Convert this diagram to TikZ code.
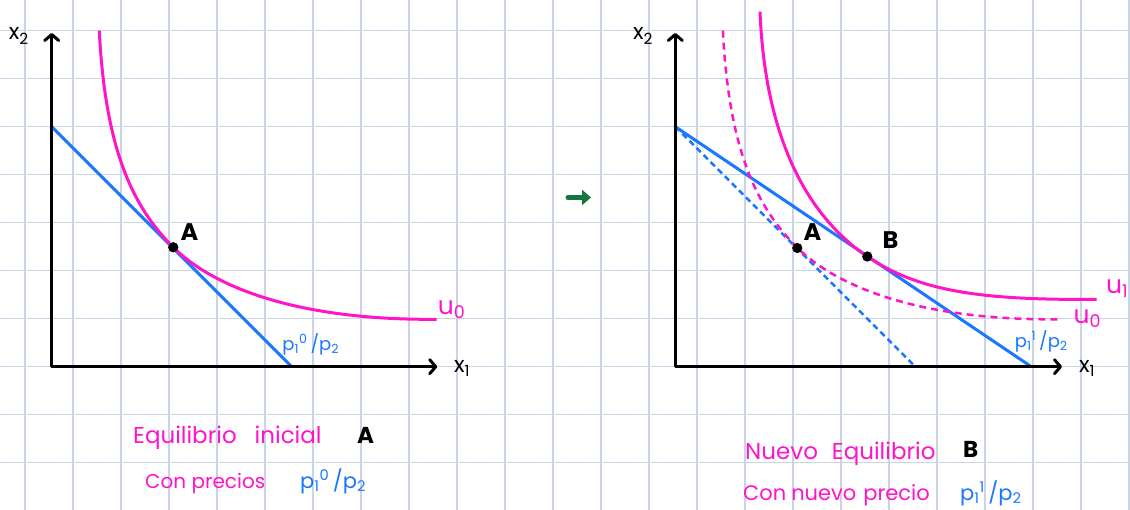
\documentclass[tikz,border=0pt]{standalone}
\usepackage{fontspec}
\setmainfont{Poppins}
\usetikzlibrary{arrows.meta}
\definecolor{gridc}{RGB}{202,212,230}
\definecolor{mag}{RGB}{255,20,200}
\definecolor{blu}{RGB}{25,120,255}
\definecolor{grn}{RGB}{20,120,60}
\begin{document}
\begin{tikzpicture}[x=1pt,y=-1pt,
  gridline/.style={gridc,line width=1.5pt},
  axis/.style={black,line width=3pt,line cap=round,line join=round,
    {Straight Barb[length=6pt,width=14pt,round]}-{Straight Barb[length=6pt,width=14pt,round]}},
  budget/.style={blu,line width=3pt},
  budgetdash/.style={blu,line width=2.5pt,dash pattern=on 6pt off 4pt},
  indiff/.style={mag,line width=3pt},
  indiffdash/.style={mag,line width=2.5pt,dash pattern=on 7pt off 5pt},
  dot/.style={circle,fill=black,inner sep=0pt,minimum size=10pt},
  ptlab/.style={font=\fontsize{24}{26}\selectfont\bfseries,text=black,inner sep=0pt},
  axlab/.style={font=\fontsize{22}{24}\selectfont,text=black,inner sep=0pt},
  ulab/.style={font=\fontsize{25}{27}\selectfont,text=mag,inner sep=0pt},
  plab/.style={font=\fontsize{18}{20}\selectfont,text=blu,inner sep=0pt},
  txt/.style={font=\fontsize{23}{26}\selectfont,text=mag,inner sep=0pt,anchor=base west},
  txtb/.style={font=\fontsize{23}{26}\selectfont\bfseries,text=black,inner sep=0pt,anchor=base west},
  txtp/.style={font=\fontsize{21}{24}\selectfont,text=blu,inner sep=0pt,anchor=base west}]
\useasboundingbox (0,0) rectangle (1130,510);
\fill[white] (0,0) rectangle (1130,510);
% grid paper
\foreach \k in {0,...,23} \draw[gridline] ({25+48*\k},0) -- ({25+48*\k},510);
\foreach \k in {0,...,9} \draw[gridline] (0,{30.7+48*\k}) -- (1130,{30.7+48*\k});

% ---------------- left panel ----------------
\begin{scope}[shift={(51.7,0)}]
  \coordinate (O1) at (0,366.7);
  \coordinate (Y1) at (0,33);
  \coordinate (X1) at (385.5,366.7);
  \coordinate (B1s) at (0,126.7);
  \coordinate (B1e) at (240,366.7);
  \coordinate (U1s) at (47.6,30.7);
  \coordinate (U1e) at (385,319.3);
  \node[dot] (A1) at (121.6,247.3) {};
  \draw[budget] (B1s) -- (B1e);
  \draw[indiff] (U1s) .. controls (53.6,150.7) and (81.6,207.3) .. (A1.center)
                .. controls (156.6,282.3) and (235,320.5) .. (U1e);
  \draw[axis] (Y1) -- (O1) -- (X1);
  \node[dot] at (A1) {};
  \node[ptlab] (lA1) at (137.8,232.5) {A};
  \node[axlab] (x2a) at (-33,36) {x\textsubscript{2}};
  \node[axlab] (x1a) at (410.3,368) {x\textsubscript{1}};
  \node[ulab] (u0a) at (400,310) {u\textsubscript{0}};
  \node[plab] (pa) at (259,344) {p\textsubscript{1}\textsuperscript{0}\,/p\textsubscript{2}};
\end{scope}

% transition arrow
\coordinate (g1) at (568,197.5);
\coordinate (g2) at (591,197.5);
\draw[grn,line width=5pt,line cap=round,-{Triangle[length=9pt,width=15pt]}] (g1) -- (g2);

% ---------------- right panel ----------------
\begin{scope}[shift={(675.3,0)}]
  \coordinate (O2) at (0,366.7);
  \coordinate (Y2) at (0,33);
  \coordinate (X2) at (386.7,366.7);
  \coordinate (B2s) at (0,126.7);
  \coordinate (B2e) at (356,366.7);
  \coordinate (B0e) at (240,366.7);
  \coordinate (V0s) at (47.6,30.7);
  \coordinate (V0e) at (383,319.3);
  \coordinate (V1s) at (84.7,11.7);
  \coordinate (V1e) at (421.4,299.3);
  \node[dot] (A2) at (122,248) {};
  \node[dot] (B2) at (192,256.5) {};
  \draw[budgetdash] (B2s) -- (B0e);
  \draw[budget] (B2s) -- (B2e);
  \draw[indiffdash] (V0s) .. controls (53.6,150.7) and (81.6,207.3) .. (121.6,247.3)
                .. controls (156.6,282.3) and (235,320.5) .. (V0e);
  \draw[indiff] (V1s) .. controls (90,141.7) and (134,217.3) .. (B2.center)
                .. controls (241.7,290.1) and (301.4,300.5) .. (V1e);
  \draw[axis] (Y2) -- (O2) -- (X2);
  \node[dot] at (A2) {};
  \node[dot] at (B2) {};
  \node[ptlab] (lA2) at (137.2,232) {A};
  \node[ptlab] (lB2) at (215.2,240.5) {B};
  \node[axlab] (x2b) at (-32.3,36) {x\textsubscript{2}};
  \node[axlab] (x1b) at (411.7,368) {x\textsubscript{1}};
  \node[ulab] (u0b) at (412,319) {u\textsubscript{0}};
  \node[ulab,anchor=west] (u1b) at (430.7,289) {u\textsubscript{1}};
  \node[plab] (pb) at (366,341) {p\textsubscript{1}\textsuperscript{1}\,/p\textsubscript{2}};
\end{scope}

% ---------------- captions ----------------
\node[txt] (c1) at (133,443) {Equilibrio\hspace{18pt}inicial};
\node[txtb] (c1A) at (357,443) {A};
\node[txt,font=\fontsize{20}{23}\selectfont] (c2) at (145,488) {Con precios};
\node[txtp] (c2p) at (300,488) {p\textsubscript{1}\textsuperscript{0}\,/p\textsubscript{2}};
\node[txt] (c3) at (745,460) {Nuevo\hspace{14pt}Equilibrio};
\node[txtb] (c3B) at (963,457) {B};
\node[txt,font=\fontsize{21}{24}\selectfont] (c4) at (743,500) {Con\hspace{5pt}nuevo\hspace{7pt}precio};
\node[txtp] (c4p) at (960,500) {p\textsubscript{1}\textsuperscript{1}\,/p\textsubscript{2}};
\end{tikzpicture}
\end{document}
